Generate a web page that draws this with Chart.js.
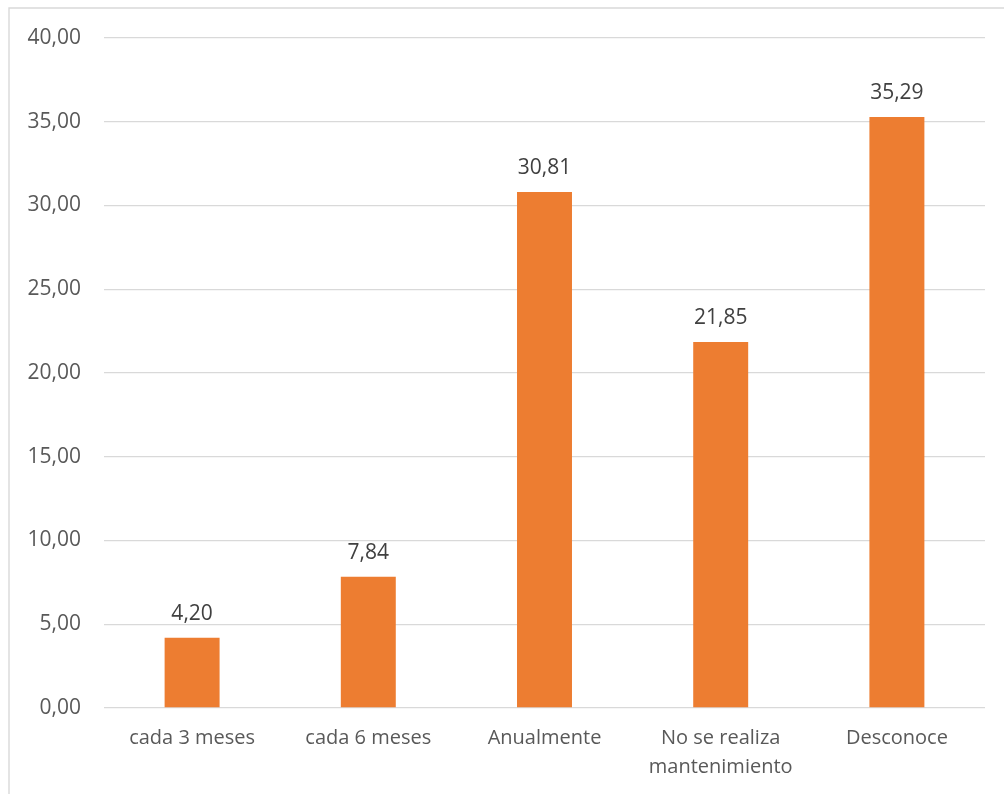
<!DOCTYPE html>
<html>
<head>
<meta charset="utf-8">
<script src="https://cdn.jsdelivr.net/npm/chart.js@4.4.1/dist/chart.umd.min.js"></script>
<style>
  html, body { margin: 0; padding: 0; background: #ffffff; }
  #wrap { position: relative; width: 1004px; height: 794px; overflow: hidden; }
  canvas { display: block; }
</style>
</head>
<body>
<div id="wrap"><canvas id="chart" width="1004" height="794"></canvas></div>
<script>
// Frecuencia de mantenimiento (%)
const categories = ['cada 3 meses', 'cada 6 meses', 'Anualmente', ['No se realiza', 'mantenimiento'], 'Desconoce'];
const values = [4.20, 7.84, 30.81, 21.85, 35.29];
const yTicks = [0, 5, 10, 15, 20, 25, 30, 35, 40];

const TEXT = '#595959';
const GRID = '#D9D9D9';
const BAR = '#ED7D31';
const FONT = '"Open Sans", "Liberation Sans", sans-serif';

const fmt = v => v.toFixed(2).replace('.', ',');

// Outer frame of the chart area
const framePlugin = {
  id: 'frame',
  beforeDraw(chart) {
    const ctx = chart.ctx;
    ctx.save();
    ctx.fillStyle = '#ffffff';
    ctx.fillRect(0, 0, chart.width, chart.height);
    ctx.strokeStyle = GRID;
    ctx.lineWidth = 1.4;
    ctx.beginPath();
    ctx.moveTo(9, chart.height + 5);
    ctx.lineTo(9, 8);
    ctx.lineTo(chart.width + 5, 8);
    ctx.stroke();
    ctx.restore();
  }
};

// Value labels above each bar
const valueLabels = {
  id: 'valueLabels',
  afterDatasetsDraw(chart) {
    const ctx = chart.ctx;
    const meta = chart.getDatasetMeta(0);
    ctx.save();
    ctx.font = '21px ' + FONT;
    ctx.fillStyle = '#404040';
    ctx.textAlign = 'center';
    ctx.textBaseline = 'middle';
    meta.data.forEach((bar, i) => {
      ctx.fillText(fmt(values[i]), bar.x, bar.y - 24);
    });
    ctx.restore();
  }
};

new Chart(document.getElementById('chart'), {
  type: 'bar',
  data: {
    labels: categories,
    datasets: [{
      data: values,
      backgroundColor: BAR,
      borderWidth: 0,
      categoryPercentage: 1,
      barPercentage: 0.312
    }]
  },
  options: {
    responsive: false,
    animation: false,
    devicePixelRatio: 1,
    layout: { padding: { left: 0, right: 19, top: 38, bottom: 0 } },
    plugins: { legend: { display: false }, tooltip: { enabled: false } },
    scales: {
      x: {
        grid: { display: false, drawTicks: false },
        border: { display: false },
        ticks: {
          color: TEXT,
          font: { family: FONT, size: 20, lineHeight: 1.45 },
          padding: 16,
          maxRotation: 0,
          autoSkip: false
        },
        afterFit(scale) { scale.height = 86; }
      },
      y: {
        min: 0,
        max: 40,
        afterBuildTicks(scale) { scale.ticks = yTicks.map(v => ({ value: v })); },
        grid: { color: GRID, lineWidth: 1.35, drawTicks: false },
        border: { display: false },
        ticks: {
          color: TEXT,
          font: { family: FONT, size: 21 },
          padding: 23,
          callback: v => fmt(v)
        },
        afterFit(scale) { scale.width = 104; }
      }
    }
  },
  plugins: [framePlugin, valueLabels]
});
</script>
</body>
</html>
